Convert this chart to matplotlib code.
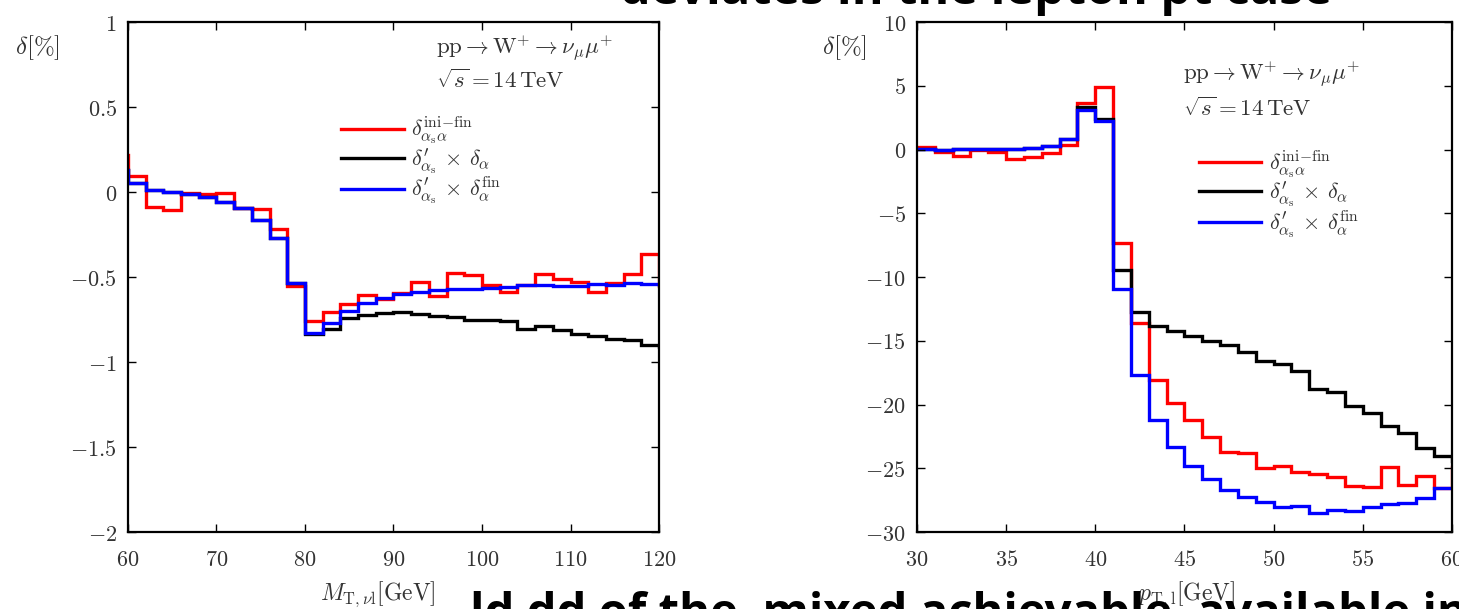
import numpy as np
import matplotlib
matplotlib.use("Agg")
import matplotlib.pyplot as plt
from matplotlib.ticker import FuncFormatter, MultipleLocator

plt.rcParams['mathtext.fontset'] = 'cm'
plt.rcParams['font.family'] = 'DejaVu Serif'

# ---- data: left panel, transverse mass (2 GeV bins, first/last entries are the neighbouring bins) ----
mt_edges = np.arange(58, 124, 2)
mt_red = [0.22, 0.094, -0.086, -0.106, -0.008, -0.012, -0.004, -0.092, -0.100, -0.220, -0.553,
          -0.757, -0.704, -0.661, -0.606, -0.631, -0.594, -0.531, -0.612, -0.478, -0.488,
          -0.547, -0.586, -0.547, -0.484, -0.513, -0.527, -0.586, -0.537, -0.482, -0.365, -0.55]
mt_black = [0.127, 0.051, 0.012, -0.002, -0.014, -0.031, -0.057, -0.096, -0.165, -0.273, -0.537,
            -0.837, -0.808, -0.743, -0.724, -0.714, -0.706, -0.718, -0.727, -0.737, -0.753,
            -0.753, -0.757, -0.808, -0.788, -0.812, -0.837, -0.845, -0.863, -0.871, -0.902, -0.91]
mt_blue = [0.127, 0.051, 0.012, -0.002, -0.014, -0.031, -0.057, -0.096, -0.165, -0.273, -0.537,
           -0.831, -0.773, -0.698, -0.651, -0.625, -0.598, -0.586, -0.576, -0.572, -0.568,
           -0.562, -0.557, -0.549, -0.545, -0.550, -0.553, -0.543, -0.547, -0.535, -0.543, -0.545]

# ---- data: right panel, lepton pT (1 GeV bins, last entry is the next bin) ----
pt_edges = np.arange(30, 62, 1)
pt_red = [0.18, -0.21, -0.52, 0.0, -0.16, -0.78, -0.55, -0.29, 0.37, 3.63, 4.94,
          -7.35, -13.6, -18.04, -19.87, -21.25, -22.56, -23.69, -23.79, -24.97, -24.86,
          -25.31, -25.44, -25.70, -26.41, -26.43, -24.92, -26.28, -25.62, -26.56, -24.9]
pt_black = [0.05, 0.0, 0.05, 0.05, 0.05, 0.05, 0.13, 0.29, 0.84, 3.37, 2.41,
            -9.41, -12.76, -13.86, -14.2, -14.59, -14.98, -15.32, -15.9, -16.55, -16.86,
            -17.39, -18.82, -19.03, -20.13, -20.68, -21.7, -22.22, -23.42, -24.0, -24.4]
pt_blue = [0.05, 0.0, 0.05, 0.05, 0.05, 0.05, 0.13, 0.29, 0.84, 3.13, 2.22,
           -10.93, -17.65, -21.18, -23.35, -24.84, -25.83, -26.69, -27.27, -27.61, -28.0,
           -27.92, -28.5, -28.31, -28.37, -28.05, -27.79, -27.74, -27.32, -26.56, -26.56]

labels = [r'$\delta_{\alpha_{\rm s}\alpha}^{\rm ini\!-\!fin}$',
          r'$\delta^{\prime}_{\alpha_{\rm s}}\,\times\,\delta_{\alpha}$',
          r'$\delta^{\prime}_{\alpha_{\rm s}}\,\times\,\delta_{\alpha}^{\rm fin}$']
colors = ['#ff0000', '#000000', '#0000ff']
txtc = '#333333'

fig = plt.figure(figsize=(14.59, 6.09), dpi=100)
ax1 = fig.add_axes([0.0877, 0.1264, 0.364, 0.8374])
ax2 = fig.add_axes([0.6285, 0.1264, 0.3667, 0.8374])

fmt = FuncFormatter(lambda v, p: '$%g$' % v)


def style(ax):
    ax.tick_params(direction='in', top=True, right=True, length=6, width=1,
                   labelsize=16, colors='k', labelcolor=txtc)
    ax.tick_params(axis='x', pad=12)
    ax.tick_params(axis='y', pad=8)
    ax.xaxis.set_major_formatter(fmt)
    ax.yaxis.set_major_formatter(fmt)
    for s in ax.spines.values():
        s.set_linewidth(1.6)


for ax, edges, series in [(ax1, mt_edges, (mt_red, mt_black, mt_blue)),
                          (ax2, pt_edges, (pt_red, pt_black, pt_blue))]:
    for vals, c, lab in zip(series, colors, labels):
        ax.stairs(vals, edges, baseline=None, color=c, lw=2.4, label=lab)
    style(ax)

ax1.set_xlim(60, 120)
ax1.set_ylim(-2, 1)
ax1.xaxis.set_major_locator(MultipleLocator(10))
ax1.yaxis.set_major_locator(MultipleLocator(0.5))
ax2.set_xlim(30, 60)
ax2.set_ylim(-30, 10)
ax2.xaxis.set_major_locator(MultipleLocator(5))
ax2.yaxis.set_major_locator(MultipleLocator(5))

# process labels
proc = r'$\mathrm{pp}\rightarrow\mathrm{W}^{+}\rightarrow\nu_{\mu}\mu^{+}$'
energy = r'$\sqrt{s}=14\,\mathrm{TeV}$'
ax1.text(0.58, 0.95, proc, transform=ax1.transAxes, fontsize=16.5, color=txtc, va='center')
ax1.text(0.58, 0.884, energy, transform=ax1.transAxes, fontsize=16.5, color=txtc, va='center')
ax2.text(0.497, 0.90, proc, transform=ax2.transAxes, fontsize=16.5, color=txtc, va='center')
ax2.text(0.497, 0.829, energy, transform=ax2.transAxes, fontsize=16.5, color=txtc, va='center')

for ax, anchor in [(ax1, (0.385, 0.835)), (ax2, (0.51, 0.77))]:
    leg = ax.legend(loc='upper left', bbox_to_anchor=anchor, frameon=False, fontsize=16,
                    handlelength=2.8, handletextpad=0.35, labelspacing=-0.05, borderaxespad=0)
    for t in leg.get_texts():
        t.set_color(txtc)

ax1.text(-0.213, 0.95, r'$\delta[\%]$', transform=ax1.transAxes, fontsize=18,
         color=txtc, va='center')
ax2.text(-0.178, 0.95, r'$\delta[\%]$', transform=ax2.transAxes, fontsize=18,
         color=txtc, va='center')

fig.text(378 / 1459, 1 - 594 / 609, r'$M_{\rm T,\nu l}[\mathrm{GeV}]$', fontsize=17,
         color=txtc, ha='center', va='center')
fig.text(1187 / 1459, 1 - 594 / 609, r'$p_{\rm T,l}[\mathrm{GeV}]$', fontsize=17,
         color=txtc, ha='center', va='center')

# slide text cut off by the screenshot
fig.text(1332 / 1459, 1 - 4 / 609, 'deviates in the lepton pt case', fontsize=35,
         fontweight='bold', family='Open Sans', ha='right', va='baseline', color='k')
fig.text(470 / 1459, -18 / 609, 'ld dd of the  mixed achievable  available in', fontsize=34,
         fontweight='bold', family='Open Sans', ha='left', va='baseline', color='k')

fig.savefig('out.png', dpi=100)
